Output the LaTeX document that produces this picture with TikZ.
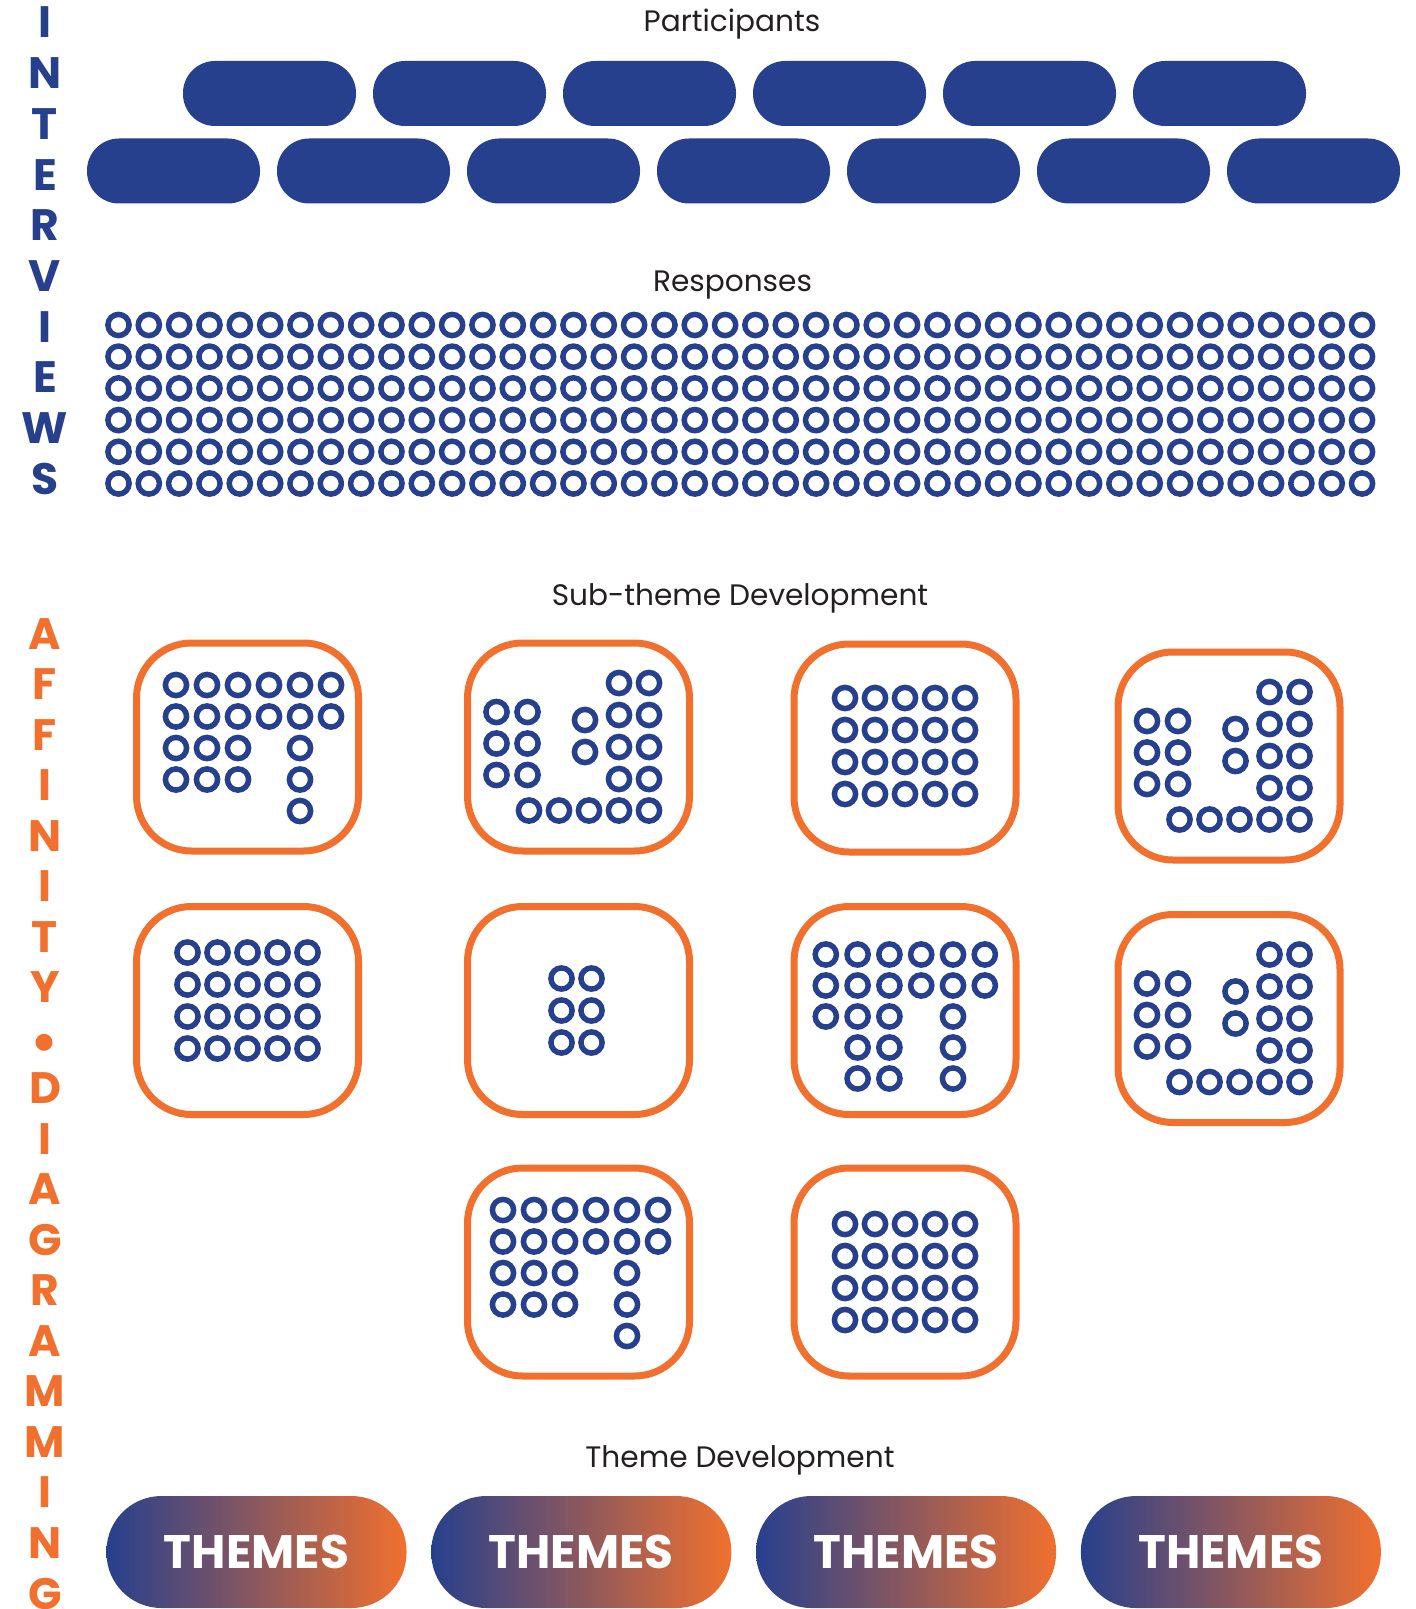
\documentclass[tikz,border=0pt]{standalone}
\usepackage{fontspec}
\setmainfont{Poppins}
\usepackage{tikz}
\usetikzlibrary{positioning}
\definecolor{affblue}{RGB}{39,64,141}
\definecolor{afforange}{RGB}{241,112,46}
\definecolor{affpurple}{RGB}{128,78,112}
\definecolor{affink}{RGB}{35,31,32}

\begin{document}
\begin{tikzpicture}[
  x=0.5pt, y=-0.5pt,
  participant/.style={rectangle, fill=affblue, minimum width=86.5pt, minimum height=32.5pt, rounded corners=16pt, inner sep=0pt},
  ring/.style={draw=affblue, line width=2.75pt},
  subtheme/.style={rectangle, draw=afforange, line width=3.5pt, fill=white, minimum width=111pt, minimum height=104pt, rounded corners=27.5pt, inner sep=0pt},
  theme/.style={rectangle, left color=affblue, middle color=affpurple, right color=afforange, minimum width=150pt, minimum height=56pt, rounded corners=27.5pt, inner sep=0pt, text=white, font=\fontsize{23.5}{24}\selectfont\bfseries},
  heading/.style={anchor=base, inner sep=0pt, text=affink, font=\fontsize{14.8}{18}\selectfont},
  vletter/.style={inner sep=0pt, font=\fontsize{22}{22}\selectfont\bfseries}
]
\useasboundingbox (0,0) rectangle (1416,1609);

% side titles
\foreach \ch [count=\k from 0] in {I,N,T,E,R,V,I,E,W,S}
  \node[vletter, text=affblue] (iv\k) at (45,22.5+50.7*\k) {\ch};
\foreach \ch [count=\k from 0] in {A,F,F,I,N,I,T,Y}
  \node[vletter, text=afforange] (ad\k) at (45,634+50.5*\k) {\ch};
\node[vletter, text=afforange, font=\fontsize{28}{28}\selectfont\bfseries] (ad8) at (45,1048) {•};
\foreach \ch [count=\k from 9] in {D,I,A,G,R,A,M,M,I,N,G}
  \node[vletter, text=afforange] (ad\k) at (45,634+50.5*\k) {\ch};

% participants
\node[heading] (participants) at (732,32) {Participants};
\node[participant] (pa1) at (269.5,93.5) {};
\foreach \i [remember=\i as \prev (initially 1)] in {2,...,6}
  \node[participant, right=8.1pt of pa\prev] (pa\i) {};
\node[participant] (pb1) at (173.5,171) {};
\foreach \i [remember=\i as \prev (initially 1)] in {2,...,7}
  \node[participant, right=8.1pt of pb\prev] (pb\i) {};

% responses
\node[heading] (responses) at (732.5,292) {Responses};
\foreach \r in {0,...,5}
  \foreach \c in {0,...,41}
    \draw[ring] (118.5+30.33*\c,325+31.7*\r) circle[radius=5.3pt];

% sub-themes
\node[heading] (subthemes) at (740,605) {Sub-theme Development};
\node[subtheme] (st1) at (247.5,747) {};
\node[subtheme] (st2) at (578.5,747) {};
\node[subtheme] (st3) at (905,748) {};
\node[subtheme] (st4) at (1229,756) {};
\node[subtheme] (st5) at (247.5,1010.5) {};
\node[subtheme] (st6) at (578.5,1010.5) {};
\node[subtheme] (st7) at (905,1010.5) {};
\node[subtheme] (st8) at (1229,1018.5) {};
\node[subtheme] (st9) at (578.5,1272) {};
\node[subtheme] (st10) at (905,1272) {};

% clusters shaped like st1
\foreach \b/\dx in {st1/6,st9/2} {
  \begin{scope}[shift={(\b.center)}, xshift=\dx*0.5pt]
    \foreach \r in {1,2}
      \foreach \c in {1,...,6}
        \draw[ring] (-108.5+31*\c,-93.5+31.5*\r) circle[radius=5.3pt];
    \foreach \r in {3,4}
      \foreach \c in {1,2,3,5}
        \draw[ring] (-108.5+31*\c,-93.5+31.5*\r) circle[radius=5.3pt];
    \draw[ring] (46.5,64) circle[radius=5.3pt];
  \end{scope}
}
\begin{scope}[shift={(st7.center)}]
  \foreach \r in {1,2}
    \foreach \c in {1,...,6}
      \draw[ring] (-111+31.8*\c,-87+31*\r) circle[radius=5.3pt];
  \foreach \c in {1,2,3,5}
    \draw[ring] (-111+31.8*\c,6) circle[radius=5.3pt];
  \foreach \r in {4,5}
    \foreach \c in {2,3,5}
      \draw[ring] (-111+31.8*\c,-87+31*\r) circle[radius=5.3pt];
\end{scope}

% clusters shaped like st2
\foreach \b in {st2,st4,st8} {
  \begin{scope}[shift={(\b.center)}]
    \foreach \y in {-35,-3.5,28}
      \foreach \x in {-82,-51}
        \draw[ring] (\x,\y) circle[radius=5.3pt];
    \foreach \y in {-27,5}
      \draw[ring] (6.5,\y) circle[radius=5.3pt];
    \foreach \y in {-64,-32,0,32}
      \foreach \x in {40.5,70.5}
        \draw[ring] (\x,\y) circle[radius=5.3pt];
    \foreach \x in {-49.5,-19.5,10.5,40.5,70.5}
      \draw[ring] (\x,63.5) circle[radius=5.3pt];
  \end{scope}
}

% square clusters
\foreach \b/\dy in {st3/-2,st5/-10,st10/0} {
  \begin{scope}[shift={(\b.center)}]
    \foreach \y in {-48,-16,16,48}
      \foreach \x in {-60,-30,0,30,60}
        \draw[ring] (\x,\y+\dy) circle[radius=5.3pt];
  \end{scope}
}
\begin{scope}[shift={(st6.center)}]
  \foreach \y in {-32,0,32}
    \foreach \x in {-17,13}
      \draw[ring] (\x,\y) circle[radius=5.3pt];
\end{scope}

% themes
\node[heading] (themedev) at (740,1467) {Theme Development};
\node[theme] (th1) at (256.5,1552) {THEMES};
\foreach \i [remember=\i as \prev (initially 1)] in {2,3,4}
  \node[theme, right=12pt of th\prev] (th\i) {THEMES};

\end{tikzpicture}
\end{document}
